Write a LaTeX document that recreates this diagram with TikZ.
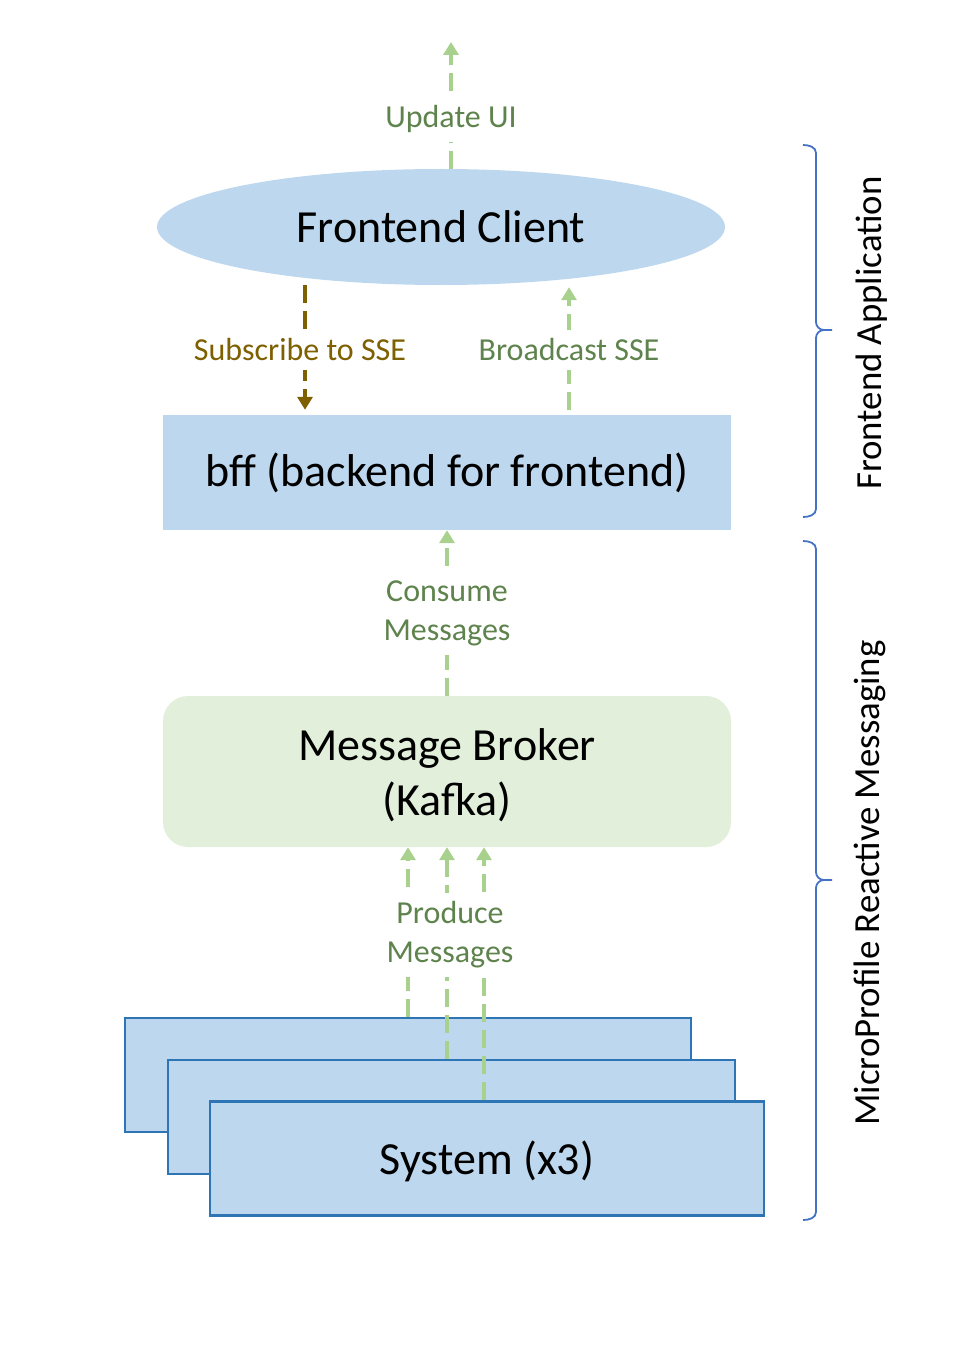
\documentclass[tikz,border=0pt]{standalone}
\usepackage{fontspec}
\setmainfont{Carlito}
\usetikzlibrary{shapes.geometric}
\usetikzlibrary{arrows.meta}

\definecolor{paleblue}{HTML}{BDD7EE}
\definecolor{edgeblue}{HTML}{2E75B6}
\definecolor{braceblue}{HTML}{4472C4}
\definecolor{palegreen}{HTML}{E2EFDA}
\definecolor{arrowgreen}{HTML}{A9D18E}
\definecolor{textgreen}{HTML}{5E834C}
\definecolor{subbrown}{HTML}{7F6000}

\begin{document}
\begin{tikzpicture}[x=1pt,y=-1pt,
    flow/.style={line width=4.5pt,dash pattern=on 18pt off 8pt,
                 -{Triangle[width=15pt,length=13pt]}},
    greenflow/.style={flow,draw=arrowgreen},
    brownflow/.style={flow,draw=subbrown},
    lbl/.style={fill=white,inner xsep=5pt,inner ysep=9pt,align=center,
                font=\fontsize{32}{39}\selectfont},
    block/.style={inner sep=0pt,align=center,
                  font=\fontsize{46}{55}\selectfont},
    sysbox/.style={block,draw=edgeblue,line width=2.5pt,fill=paleblue,
                   minimum width=560pt,minimum height=114pt},
    bracket/.style={draw=braceblue,line width=1.8pt},
    side/.style={rotate=90,font=\fontsize{36.8}{44}\selectfont}]

    \useasboundingbox (0,0) rectangle (976,1364);

    % top part
    \node[block,ellipse,fill=paleblue,minimum width=568pt,minimum height=116pt]
        (client) at (441,227) {Frontend Client};
    \node[block,fill=paleblue,minimum width=568pt,minimum height=115pt]
        (bff) at (447,472.5) {bff (backend for frontend)};
    \node[block,fill=palegreen,rounded corners=25pt,minimum width=568pt,minimum height=151pt]
        (broker) at (447,771.5) {};
    \node[block] (brokertext) at ([yshift=-4pt]broker.center) {Message Broker\\(Kafka)};

    % stacked systems
    \node[sysbox,minimum width=566pt] (sys1) at (408,1075) {};
    \node[sysbox,minimum width=567pt] (sys2) at (451.5,1117) {};
    \node[sysbox,minimum width=554pt] (sys3) at (487,1158.5) {};
    \node[block] (systext) at ([yshift=-3pt]sys3.center) {System (x3)};

    \coordinate (ui) at (451,42);

    \draw[greenflow] (client.north -| ui) -- node[lbl,text=textgreen,pos=0.39] {Update UI} (ui);
    \draw[brownflow,shorten >=5pt] ([xshift=-136pt]client.south) --
        node[lbl,text=subbrown,pos=0.50,xshift=-5pt] {Subscribe to SSE} ([xshift=-142pt]bff.north);
    \draw[greenflow,shorten <=5pt,shorten >=2pt] ([xshift=122pt]bff.north) --
        node[lbl,text=textgreen,pos=0.50] {Broadcast SSE} ([xshift=128pt]client.south);
    \draw[greenflow] (broker.north) --
        node[lbl,text=textgreen,pos=0.50] {Consume\\Messages} (bff.south);

    % produce arrows
    \draw[greenflow] (sys1.north) -- ([xshift=-39pt]broker.south);
    \draw[greenflow] ([xshift=-4.5pt]sys2.north) -- (broker.south);
    \draw[greenflow] ([xshift=-3pt]sys3.north) -- ([xshift=37pt]broker.south);
    \node[lbl,text=textgreen,inner xsep=8pt] (produce) at (450,935) {Produce\\Messages};

    % braces
    \draw[bracket] (803,145) to[out=0,in=90] (816,153) -- (816,322)
        to[out=-90,in=180] (824,330) -- (832,330);
    \draw[bracket] (824,330) to[out=180,in=90] (816,338) -- (816,509)
        to[out=-90,in=0] (803,517);
    \draw[bracket] (803,541) to[out=0,in=90] (816,549) -- (816,872)
        to[out=-90,in=180] (824,880) -- (832,880);
    \draw[bracket] (824,880) to[out=180,in=90] (816,888) -- (816,1212)
        to[out=-90,in=0] (803,1220);

    \node[side] (fe) at (872,333) {Frontend Application};
    \node[side] (mp) at (870,883) {MicroProfile Reactive Messaging};
\end{tikzpicture}
\end{document}
